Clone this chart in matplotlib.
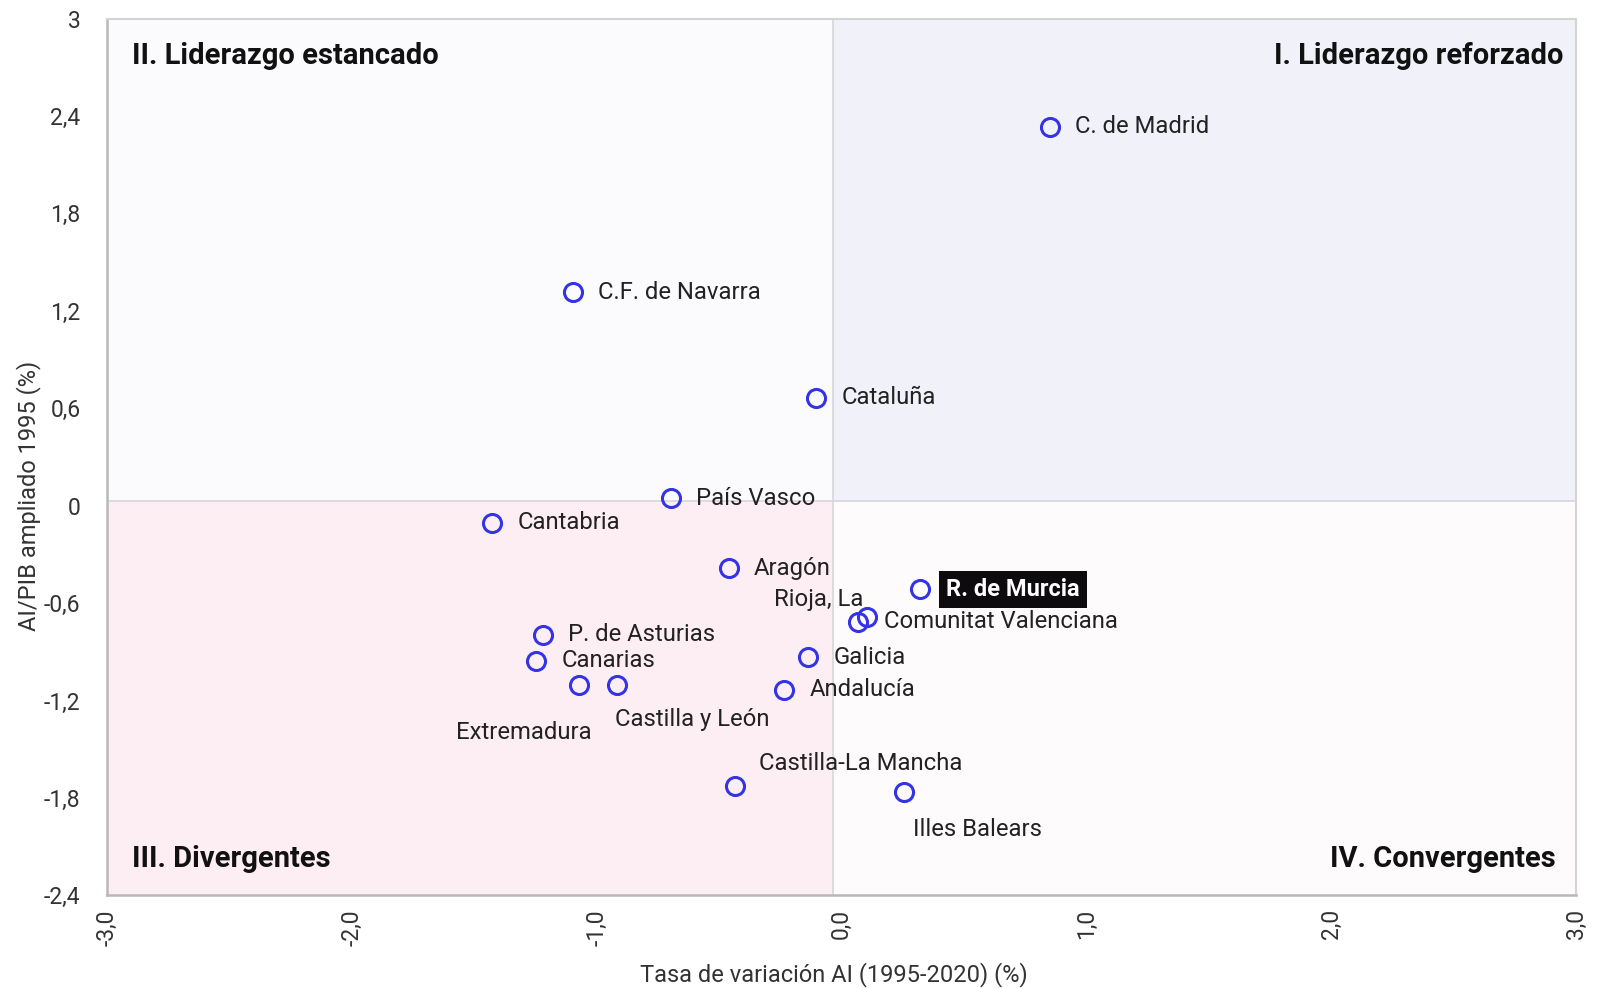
import matplotlib
matplotlib.use("Agg")
import matplotlib.pyplot as plt
from matplotlib.ticker import FixedLocator, FixedFormatter

plt.rcParams['font.family'] = ['Roboto', 'DejaVu Sans']

# Regional data: growth of AI (x) vs AI/PIB 1995 (y)
regions = ['C. de Madrid', 'C.F. de Navarra', 'Cataluña', 'País Vasco', 'Cantabria',
           'Aragón', 'R. de Murcia', 'Rioja, La', 'Comunitat Valenciana', 'Galicia',
           'Andalucía', 'P. de Asturias', 'Canarias', 'Extremadura', 'Castilla y León',
           'Castilla-La Mancha', 'Illes Balears']
tasa_var = [0.850, -1.095, -0.103, -0.697, -1.426,
            -0.459, 0.320, 0.069, 0.102, -0.136,
            -0.233, -1.217, -1.246, -1.070, -0.915,
            -0.434, 0.257]
ai_pib = [2.335, 1.315, 0.665, 0.045, -0.105,
          -0.385, -0.515, -0.715, -0.685, -0.935,
          -1.135, -0.795, -0.955, -1.105, -1.105,
          -1.725, -1.765]

# label offsets in pixels (dx, dy) and alignment
offsets = {
    'Rioja, La': (5, 22, 'right'),
    'Extremadura': (12, -47, 'right'),
    'Castilla y León': (-2, -34, 'left'),
    'Castilla-La Mancha': (24, 22, 'left'),
    'Illes Balears': (9, -37, 'left'),
    'Comunitat Valenciana': (17, -5, 'left'),
}

x_ticks = [-3, -2, -1, 0, 1, 2, 3]
x_labels = ['-3,0', '-2,0', '-1,0', '0,0', '1,0', '2,0', '3,0']
y_ticks = [3, 2.4, 1.8, 1.2, 0.6, 0, -0.6, -1.2, -1.8, -2.4]
y_labels = ['3', '2,4', '1,8', '1,2', '0,6', '0', '-0,6', '-1,2', '-1,8', '-2,4']

# quadrant split (as drawn in the original, slightly off the zero ticks)
x_split = -0.035
y_split = 0.03

fig = plt.figure(figsize=(16.08, 9.88), dpi=100)
ax = fig.add_axes([0.0664, 0.0938, 0.9139, 0.8874])
ax.set_xlim(-3, 3)
ax.set_ylim(-2.4, 3)

# quadrant backgrounds
ax.fill_between([x_split, 3], y_split, 3, color='#f1f2f9', zorder=0, lw=0)
ax.fill_between([-3, x_split], y_split, 3, color='#fbfbfe', zorder=0, lw=0)
ax.fill_between([-3, x_split], -2.4, y_split, color='#fdeef4', zorder=0, lw=0)
ax.fill_between([x_split, 3], -2.4, y_split, color='#fefbfd', zorder=0, lw=0)
ax.axhline(y_split, color='#d6d6d9', lw=1.2, zorder=1)
ax.axvline(x_split, color='#d6d6d9', lw=1.2, zorder=1)

for s in ['top', 'right']:
    ax.spines[s].set_color('#d4d4d4')
    ax.spines[s].set_linewidth(1.5)
for s in ['left', 'bottom']:
    ax.spines[s].set_color('#b8b8b8')
    ax.spines[s].set_linewidth(1.8)

ax.plot(tasa_var, ai_pib, 'o', ls='none', markersize=13, markerfacecolor='none',
        markeredgecolor='#3434e6', markeredgewidth=2.2, zorder=3)

for name, x, y in zip(regions, tasa_var, ai_pib):
    dx, dy, ha = offsets.get(name, (25, 0, 'left'))
    if name == 'R. de Murcia':
        ax.annotate(name, (x, y), xytext=(26, 0), textcoords='offset pixels',
                    ha='left', va='center', fontsize=17, fontweight='bold', color='white',
                    bbox=dict(boxstyle='square,pad=0.3', fc='#0d0b0e', ec='none'), zorder=4)
    else:
        ax.annotate(name, (x, y), xytext=(dx, dy), textcoords='offset pixels',
                    ha=ha, va='center', fontsize=17.2, color='#222222', zorder=4)

# quadrant titles
qkw = dict(fontsize=21, fontweight='bold', color='#111111', transform=ax.transAxes, va='center')
ax.text(0.017, 0.957, 'II. Liderazgo estancado', ha='left', **qkw)
ax.text(0.991, 0.957, 'I. Liderazgo reforzado', ha='right', **qkw)
ax.text(0.017, 0.042, 'III. Divergentes', ha='left', **qkw)
ax.text(0.986, 0.042, 'IV. Convergentes', ha='right', **qkw)

ax.xaxis.set_major_locator(FixedLocator(x_ticks))
ax.xaxis.set_major_formatter(FixedFormatter(x_labels))
ax.yaxis.set_major_locator(FixedLocator(y_ticks))
ax.yaxis.set_major_formatter(FixedFormatter(y_labels))
ax.tick_params(axis='both', length=0, labelsize=16.5, labelcolor='#333333')
ax.tick_params(axis='x', labelrotation=90, pad=10)
ax.tick_params(axis='y', pad=19)

ax.set_xlabel('Tasa de variación AI (1995-2020) (%)', fontsize=17, color='#333333')
ax.set_ylabel('AI/PIB ampliado 1995 (%)', fontsize=17, color='#333333')
ax.xaxis.set_label_coords(0.495, -0.076)
ax.yaxis.set_label_coords(-0.045, 0.456)

fig.savefig('out.png', dpi=100)
